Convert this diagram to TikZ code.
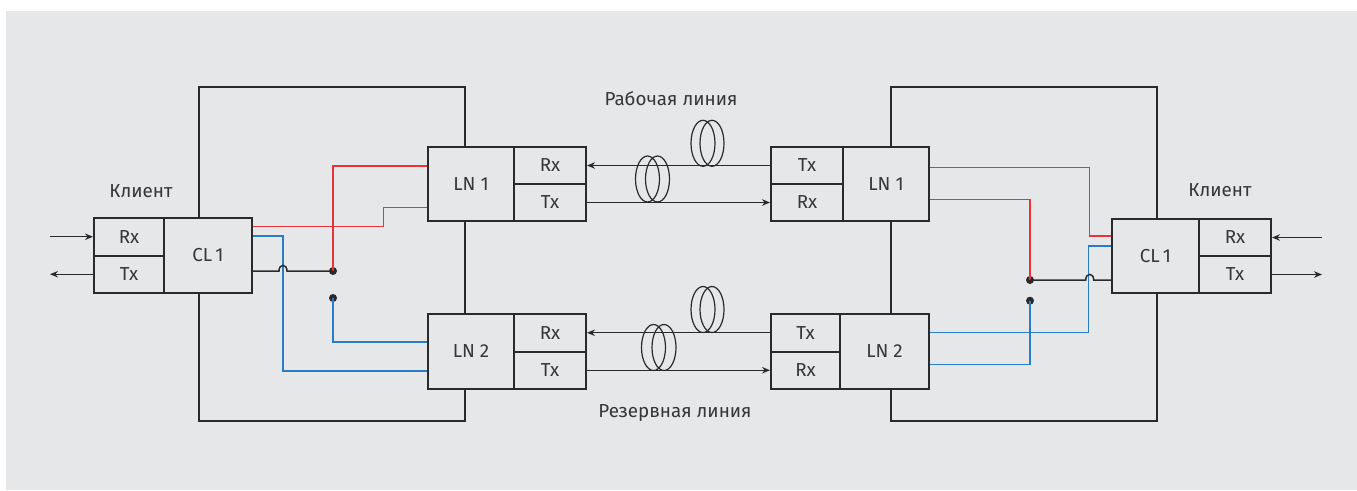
\documentclass[tikz,border=0pt]{standalone}
\usepackage{fontspec}
\setmainfont{Fira Sans}
\usetikzlibrary{arrows.meta,calc}

\definecolor{bggray}{HTML}{E6E7E9}
\definecolor{ink}{HTML}{2B2A2B}
\definecolor{txt}{HTML}{363636}
\definecolor{wred}{HTML}{E8343A}
\definecolor{wblue}{HTML}{2A7DC4}

\tikzset{
  cell/.style={draw=ink, line width=2pt, fill=bggray, inner sep=0pt,
    text=txt, font=\fontsize{18.8}{19}\selectfont},
  frame/.style={draw=ink, line width=1.6pt, inner sep=0pt},
  wire/.style={line width=1.5pt},
  redwire/.style={wire, draw=wred},
  bluewire/.style={wire, draw=wblue},
  blackwire/.style={wire, draw=ink},
  fiber/.style={draw=ink, line width=1.4pt, -{Stealth[length=8pt,width=6.5pt]}},
  coil/.style={draw=ink, line width=1.2pt},
  dot/.style={circle, fill=ink, inner sep=0pt, minimum size=8pt},
  label/.style={text=txt, font=\fontsize{18.8}{19}\selectfont, inner sep=0pt},
}

\begin{document}
\begin{tikzpicture}[x=1pt, y=-1pt]
  % canvas
  \useasboundingbox (0,0) rectangle (1357,490);
  \fill[bggray] (6,11) rectangle (1357,490);

  % equipment frames
  \node[frame, minimum width=266pt, minimum height=334pt] (lFrame) at (332,254) {};
  \node[frame, minimum width=266pt, minimum height=334pt] (rFrame) at (1024,254) {};

  % left client card
  \node[cell, minimum width=70pt, minimum height=37.5pt] (lCRx) at (129,236.75) {Rx};
  \node[cell, minimum width=70pt, minimum height=37.5pt] (lCTx) at (129,274.25) {Tx};
  \node[cell, minimum width=88pt, minimum height=75pt]   (lCL)  at (208,255.5) {CL\,1};

  % right client card
  \node[cell, minimum width=87pt, minimum height=74pt]   (rCL)  at (1155.5,256) {CL\,1};
  \node[cell, minimum width=72pt, minimum height=37pt]   (rCRx) at (1235,237.5) {Rx};
  \node[cell, minimum width=72pt, minimum height=37pt]   (rCTx) at (1235,274.5) {Tx};

  % left line cards
  \node[cell, minimum width=86pt, minimum height=74pt]   (lLN1)  at (471,184) {LN 1};
  \node[cell, minimum width=72pt, minimum height=37pt]   (lL1Rx) at (550,165.5) {Rx};
  \node[cell, minimum width=72pt, minimum height=37pt]   (lL1Tx) at (550,202.5) {Tx};
  \node[cell, minimum width=86pt, minimum height=75pt]   (lLN2)  at (471,351.5) {LN 2};
  \node[cell, minimum width=72pt, minimum height=37.5pt] (lL2Rx) at (550,332.75) {Rx};
  \node[cell, minimum width=72pt, minimum height=37.5pt] (lL2Tx) at (550,370.25) {Tx};

  % right line cards
  \node[cell, minimum width=72pt, minimum height=37pt]   (rL1Tx) at (807,165.5) {Tx};
  \node[cell, minimum width=72pt, minimum height=37pt]   (rL1Rx) at (807,202.5) {Rx};
  \node[cell, minimum width=86pt, minimum height=74pt]   (rLN1)  at (886,184) {LN 1};
  \node[cell, minimum width=69pt, minimum height=37.5pt] (rL2Tx) at (805.5,332.75) {Tx};
  \node[cell, minimum width=69pt, minimum height=37.5pt] (rL2Rx) at (805.5,370.25) {Rx};
  \node[cell, minimum width=89pt, minimum height=75pt]   (rLN2)  at (884.5,351.5) {LN 2};

  % labels
  \node[label] (lClient) at (141,191) {Клиент};
  \node[label] (rClient) at (1220,190) {Клиент};
  \node[label] (work)    at (671,99)  {Рабочая линия};
  \node[label] (spare)   at (675,413) {Резервная линия};

  % client ports
  \coordinate (lIn)  at (50,236.75);
  \coordinate (lOut) at (50,274.25);
  \coordinate (rIn)  at (1322,237.5);
  \coordinate (rOut) at (1322,274.5);
  \draw[fiber] (lIn) -- (lCRx.west);
  \draw[fiber] (lCTx.west) -- (lOut);
  \draw[fiber] (rIn) -- (rCRx.east);
  \draw[fiber] (rCTx.east) -- (rOut);

  % optical lines
  \draw[fiber] (rL1Tx.west) -- (lL1Rx.east);
  \draw[fiber] (lL1Tx.east) -- (rL1Rx.west);
  \draw[fiber] (rL2Tx.west) -- (lL2Rx.east);
  \draw[fiber] (lL2Tx.east) -- (rL2Rx.west);

  % fiber coils
  \foreach \cx/\cy in {703/143.3, 712/143.3, 647.5/179, 657.5/179,
                       703/309.5, 712/309.5, 653.5/347.5, 664/347.5}
    \draw[coil] (\cx,\cy) ellipse[x radius=12, y radius=23];

  % switch contacts
  \node[dot] (dA) at (333,271) {};
  \node[dot] (dB) at (333,298) {};
  \node[dot] (dC) at (1030,280) {};
  \node[dot] (dD) at (1030,300.7) {};

  % left side wiring
  \draw[redwire] ([yshift=18pt]lLN1.west) -| (dA.center);
  \draw[redwire] ([yshift=28.8pt]lCL.east) -- ++(130.7,0) |- ([yshift=-23.7pt]lLN1.west);
  \draw[bluewire] ([yshift=19.5pt]lCL.east) -- ++(30,0) |- ([yshift=-19.5pt]lLN2.west);
  \draw[bluewire] (dB.center) |- ([yshift=9.5pt]lLN2.west);
  \draw[blackwire] ([yshift=-15.5pt]lCL.east) -- ++(26,0)
     .. controls ++(0,-7.5) and ++(0,-7.5) .. ++(8,0) -- (dA.center);

  % right side wiring
  \draw[redwire] ([yshift=16.7pt]rLN1.east) -- ++(159.3,0) |- ([yshift=20pt]rCL.west);
  \draw[redwire] ([yshift=-15.3pt]rLN1.east) -| (dC.center);
  \draw[bluewire] ([yshift=10pt]rCL.west) -- ++(-22.3,0) |- ([yshift=18.8pt]rLN2.east);
  \draw[bluewire] (dD.center) |- ([yshift=-13.2pt]rLN2.east);
  \draw[blackwire] (dC.center) -- (1085.7,280)
     .. controls ++(0,-7.5) and ++(0,-7.5) .. ++(8,0) -- ([yshift=-24pt]rCL.west);
\end{tikzpicture}
\end{document}
